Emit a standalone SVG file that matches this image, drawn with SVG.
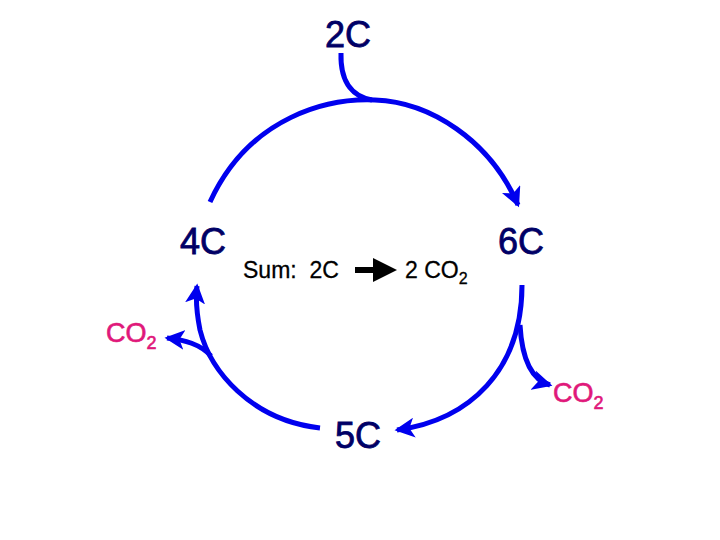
<svg xmlns="http://www.w3.org/2000/svg" width="720" height="540" viewBox="0 0 720 540">
<style>
.c{fill:none;stroke:#0000ee;stroke-width:5;stroke-linecap:butt}
.n{font-family:"Liberation Sans",Arial,sans-serif;font-size:36px;fill:#000066;text-anchor:middle;stroke:#000066;stroke-width:0.8}
.p{font-family:"Liberation Sans",Arial,sans-serif;font-size:27px;fill:#e0187a;stroke:#e0187a;stroke-width:0.6}
.s{font-family:"Liberation Sans",Arial,sans-serif;font-size:23px;fill:#000;stroke:#000;stroke-width:0.3}
</style>
<defs>
<marker id="a" markerWidth="5" markerHeight="4" refX="3.5" refY="2" orient="auto" markerUnits="strokeWidth"><path d="M0,0 L4,2 L0,4 L1,2 Z" fill="#0000ee"/></marker>
<marker id="b" markerWidth="4" markerHeight="4" refX="2" refY="2" orient="auto" markerUnits="strokeWidth"><path d="M0,0 L4,2 L0,4 Z" fill="#000"/></marker>
</defs>
<g id="connectors">
<path class="c" d="M341,53 C340,85 355,97 372,100"/>
<path class="c" d="M210,202 C250,115 330,98 375,100 C430,102 490,140 518,205" marker-end="url(#a)"/>
<path class="c" d="M522,285 C522,370 470,420 397,430" marker-end="url(#a)"/>
<path class="c" d="M520,325 C522,360 532,380 550,385" marker-end="url(#a)"/>
<path class="c" d="M320,428 C250,420 210,370 200,330 C196,310 196,295 197,286" marker-end="url(#a)"/>
<path class="c" d="M211,356 C200,344 185,340 167,338" marker-end="url(#a)"/>
<path d="M355,270 L385,270" stroke="#000" stroke-width="6" fill="none" marker-end="url(#b)"/>
</g>
<g id="n2C"><text class="n" x="348" y="47">2C</text></g>
<g id="n4C"><text class="n" x="203" y="254">4C</text></g>
<g id="n6C"><text class="n" x="521" y="254">6C</text></g>
<g id="n5C"><text class="n" x="358" y="448">5C</text></g>
<g id="co2L"><text class="p" x="106" y="342">CO<tspan dy="7" font-size="18">2</tspan></text></g>
<g id="co2R"><text class="p" x="553" y="402">CO<tspan dy="7" font-size="18">2</tspan></text></g>
<g id="sum"><text class="s" x="243" y="278" xml:space="preserve">Sum:  2C</text><text class="s" x="405" y="278">2 CO<tspan dy="6" font-size="16">2</tspan></text></g>
</svg>
